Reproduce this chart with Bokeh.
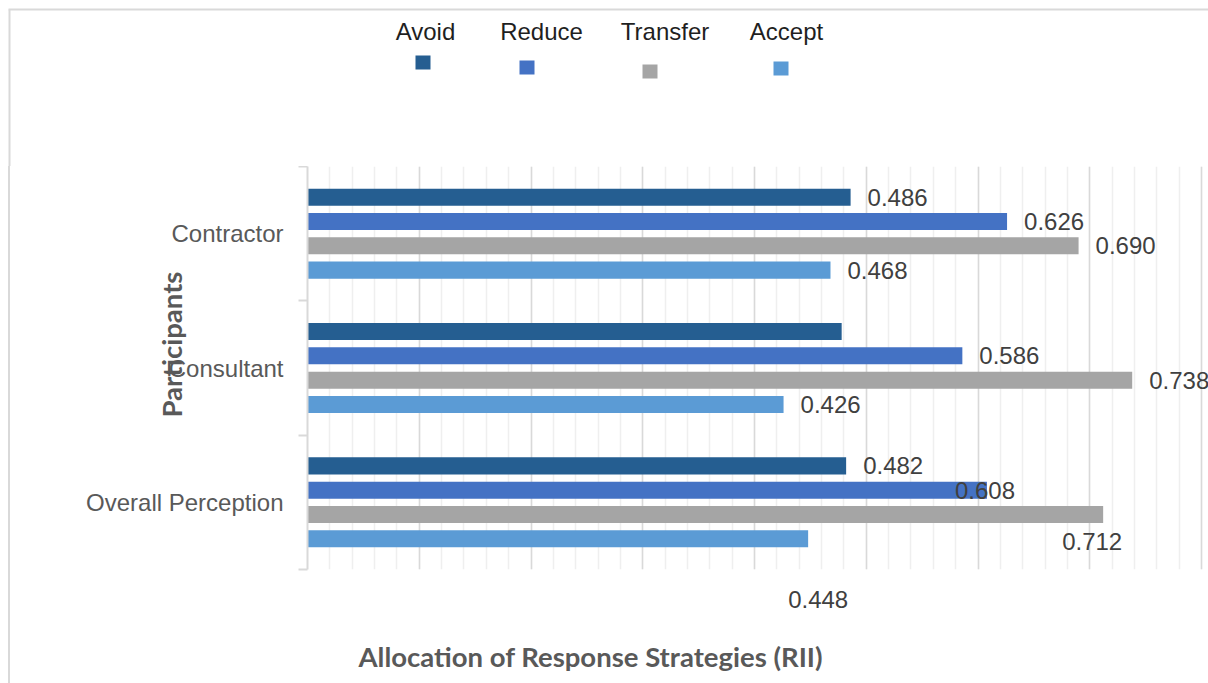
from bokeh.core.properties import value
from bokeh.embed import file_html
from bokeh.layouts import column, row
from bokeh.models import ColumnDataSource, FixedTicker, LabelSet, Range1d, Spacer, Title
from bokeh.plotting import figure
from bokeh.resources import INLINE

# ---- data -------------------------------------------------------------
categories = ["Contractor", "Consultant", "Overall Perception"]
strategies = ["Avoid", "Reduce", "Transfer", "Accept"]

avoid = [0.486, 0.478, 0.482]
reduce_ = [0.626, 0.586, 0.608]
transfer = [0.690, 0.738, 0.712]
accept = [0.468, 0.426, 0.448]

# which bars carry a value label (Consultant / Avoid has none)
avoid_shown = [True, False, True]
reduce_shown = [True, True, True]
transfer_shown = [True, True, True]
accept_shown = [True, True, True]

x_ticks = [0.0, 0.1, 0.2, 0.3, 0.4, 0.5, 0.6, 0.7, 0.8]

# ---- styling ----------------------------------------------------------
colors = ["#255E91", "#4472C4", "#A5A5A5", "#5B9BD5"]
bar_offsets = [0.2715, 0.0905, -0.0905, -0.2715]   # within a category band
bar_height = 0.127
label_dx_default = 17
# hand-placed data labels (px): (strategy, category) -> (dx, dy)
label_nudges = {
    ("Reduce", "Overall Perception"): (-32, 0),
    ("Transfer", "Overall Perception"): (-41, -27),
}
# data label that sits beneath the plot area: (strategy, category) -> dx
labels_below = {("Accept", "Overall Perception"): -20}

legend_text_x = [425, 541, 664.5, 786]
legend_text_y = 31
legend_key_x = [422.5, 526.5, 649.5, 780.5]
legend_key_y = [62, 67, 71, 68]

GRID = "#D9D9D9"
FONT = "Liberation Sans"
TITLE_FONT = "Lato"
TITLE_SIZE = "27.5px"

FRAME_LEFT = 297          # px, inside the main figure
FRAME_W = 1198 - FRAME_LEFT
X_MAX = 0.8 * FRAME_W / 894.0   # 0.8 lands 7 px short of the right edge
PX_PER_UNIT = FRAME_W / X_MAX

series_values = [avoid, reduce_, transfer, accept]
series_shown = [avoid_shown, reduce_shown, transfer_shown, accept_shown]
n = len(categories)
band_centers = [n - i - 0.5 for i in range(n)]

# ---- legend strip (top) -----------------------------------------------
leg = figure(width=1208, height=166, x_range=Range1d(0, 1208), y_range=Range1d(166, 0),
             x_axis_type=None, y_axis_type=None, output_backend="svg",
             toolbar_location=None, min_border=0)
leg.outline_line_color = None
leg.segment(x0=[8, 9], y0=[9, 9], x1=[1208, 9], y1=[9, 166], line_color=GRID, line_width=2)
leg.text(x=legend_text_x, y=[legend_text_y] * 4, text=strategies,
         text_font=value(FONT), text_font_size="24px", text_color="#1F1F1F",
         text_align="center", text_baseline="middle")
leg.rect(x=legend_key_x, y=legend_key_y, width=15, height=14, fill_color=colors, line_color=None)

# ---- chart border, left side ------------------------------------------
edge = Spacer(width=10, height=517,
              styles={"border-right": "2px solid #D9D9D9", "box-sizing": "border-box"})

# ---- main chart -------------------------------------------------------
p = figure(width=1198, height=517, x_range=Range1d(0, X_MAX), y_range=Range1d(0, n),
           output_backend="svg", toolbar_location=None,
           min_border_left=FRAME_LEFT, min_border_right=0, min_border_top=0,
           min_border_bottom=114)
p.outline_line_color = None
p.xaxis.visible = False
p.ygrid.visible = False

p.xgrid.ticker = FixedTicker(ticks=x_ticks,
                             minor_ticks=[round(0.02 * k, 2) for k in range(41)])
p.xgrid.grid_line_color = GRID
p.xgrid.grid_line_width = 1.5
p.xgrid.minor_grid_line_color = "#EFEFEF"
p.xgrid.minor_grid_line_width = 1.5

p.yaxis.ticker = FixedTicker(ticks=band_centers, minor_ticks=list(range(n + 1)))
p.yaxis.major_label_overrides = {c: name for c, name in zip(band_centers, categories)}
p.yaxis.major_tick_line_color = None
p.yaxis.major_tick_in = 0
p.yaxis.major_tick_out = 0
p.yaxis.minor_tick_line_color = GRID
p.yaxis.minor_tick_line_width = 2
p.yaxis.minor_tick_in = 0
p.yaxis.minor_tick_out = 9
p.yaxis.axis_line_color = GRID
p.yaxis.axis_line_width = 2
p.yaxis.major_label_standoff = 15
p.yaxis.major_label_text_font = FONT
p.yaxis.major_label_text_font_size = "24px"
p.yaxis.major_label_text_color = "#595959"

lab = dict(x=[], y=[], text=[], dx=[], dy=[])
below = []
for name, vals, shown, col, off in zip(strategies, series_values, series_shown, colors, bar_offsets):
    ys = [c + off for c in band_centers]
    p.hbar(y=ys, left=0, right=vals, height=bar_height, fill_color=col, line_color=None)
    for cat, yv, v, sh in zip(categories, ys, vals, shown):
        if not sh:
            continue
        if (name, cat) in labels_below:
            below.append((v, labels_below[(name, cat)]))
            continue
        dx, dy = label_nudges.get((name, cat), (label_dx_default, 0))
        lab["x"].append(v)
        lab["y"].append(yv)
        lab["text"].append(f"{v:.3f}")
        lab["dx"].append(dx)
        lab["dy"].append(dy)

p.add_layout(LabelSet(x="x", y="y", text="text", x_offset="dx", y_offset="dy",
                      source=ColumnDataSource(lab), text_font=value(FONT),
                      text_font_size="24px", text_color="#404040",
                      text_align="left", text_baseline="middle"))

# bottom band (114 px): value label that falls below the bars, then the axis title
for v, dx in below:
    p.add_layout(Title(text=f"{v:.3f}", align="left", offset=v * PX_PER_UNIT + dx,
                       standoff=39, text_font=FONT, text_font_size="24px",
                       text_font_style="normal", text_color="#404040"), "below")

p.add_layout(Title(text="Allocation of Response Strategies (RII)", align="left", offset=51,
                   standoff=20, text_font=TITLE_FONT, text_font_size=TITLE_SIZE,
                   text_font_style="bold", text_color="#595959"), "below")

# vertical axis title, pulled in over the category labels
p.add_layout(Title(text="Participants", align="left", offset=152, standoff=-208,
                   text_font=TITLE_FONT, text_font_size=TITLE_SIZE,
                   text_font_style="bold", text_color="#595959"), "left")

layout = column(leg, row(edge, p, spacing=0), spacing=0)
open("out.html", "w").write(file_html(layout, INLINE))
